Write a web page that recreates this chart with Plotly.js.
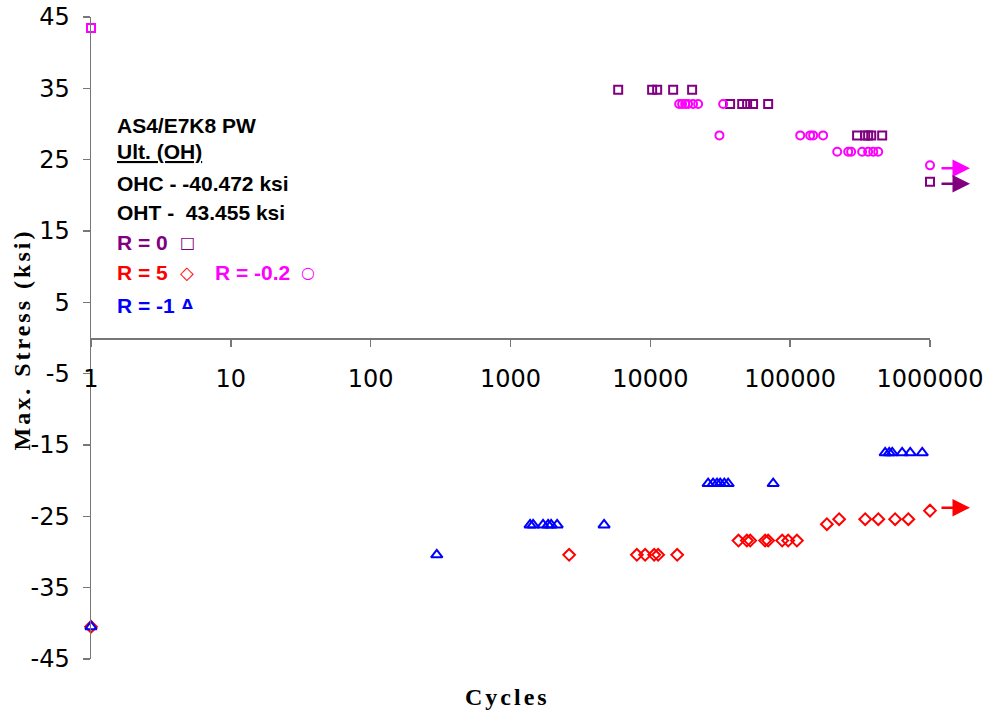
<!DOCTYPE html>
<html>
<head>
<meta charset="utf-8">
<script src="https://cdn.plot.ly/plotly-3.0.1.min.js"></script>
<style>
html,body{margin:0;padding:0;background:#fff;}
#chart{width:991px;height:716px;}
.spaced text{letter-spacing:3px;}
</style>
</head>
<body>
<div id="chart"></div>
<script>
// Ultimate (static) strengths
const ultTensionX = [1];
const ultTensionY = [43.455];

// R = 0 (squares)
const r0X = [5890, 10300, 11190, 14560, 19900, 37200, 45400, 49200, 54300, 69600, 301000, 344000, 361000, 380000, 455000, 1000000];
const r0Y = [34.8, 34.8, 34.8, 34.8, 34.8, 32.8, 32.8, 32.8, 32.8, 32.8, 28.4, 28.4, 28.4, 28.4, 28.4, 21.9];

// R = -0.2 (circles)
const rm02X = [16070, 16880, 17740, 18620, 20220, 21970, 33170, 31200, 118000, 139000, 146000, 172000, 217000, 260000, 273000, 327000, 361000, 393000, 426000, 1000000];
const rm02Y = [32.8, 32.8, 32.8, 32.8, 32.8, 32.8, 32.8, 28.4, 28.4, 28.4, 28.4, 28.4, 26.1, 26.1, 26.1, 26.1, 26.1, 26.1, 26.1, 24.2];

// R = 5 (diamonds)
const r5X = [1, 2626, 8010, 9180, 10650, 11370, 15560, 42700, 49000, 51800, 66200, 69600, 87700, 96800, 111700, 183000, 224000, 344000, 427000, 563000, 700000, 1000000];
const r5Y = [-40.472, -30.4, -30.4, -30.4, -30.4, -30.4, -30.4, -28.4, -28.4, -28.4, -28.4, -28.4, -28.4, -28.4, -28.4, -26.1, -25.4, -25.4, -25.4, -25.4, -25.4, -24.2];

// R = -1 (triangles)
const rm1X = [1, 297, 1381, 1452, 1710, 1858, 1952, 2155, 4670, 25900, 28100, 30000, 31600, 33800, 36000, 75600, 478000, 511000, 537000, 632000, 722000, 880000];
const rm1Y = [-40.472, -30.4, -26.2, -26.2, -26.2, -26.2, -26.2, -26.2, -26.2, -20.4, -20.4, -20.4, -20.4, -20.4, -20.4, -20.4, -16.1, -16.1, -16.1, -16.1, -16.1, -16.1];

// Run-outs (specimens that did not fail at 1e6 cycles)
const runoutX = [1000000, 1000000, 1000000];
const runoutY = [24.2, 21.9, -24.2];
const runoutColors = ['#FF00FF', '#800080', '#FF0000'];

// Axis ticks
const xTickVals = [1, 10, 100, 1000, 10000, 100000, 1000000];
const xTickText = ['1', '10', '100', '1000', '10000', '100000', '1000000'];
const yTickVals = [-45, -35, -25, -15, -5, 5, 15, 25, 35, 45];
const yTickText = ['-45', '-35', '-25', '-15', '-5', '5', '15', '25', '35', '45'];

const PURPLE = '#800080', MAGENTA = '#FF00FF', RED = '#FF0000', BLUE = '#0000FF';

function mk(x, y, sym, color, size) {
  return {x: x, y: y, type: 'scatter', mode: 'markers', cliponaxis: false, showlegend: false,
    marker: {symbol: sym, size: size, color: color, line: {color: color, width: 2}}};
}

const traces = [
  mk(r0X, r0Y, 'square-open', PURPLE, 8),
  mk(rm02X, rm02Y, 'circle-open', MAGENTA, 8),
  mk(r5X, r5Y, 'diamond-open', RED, 9),
  mk(rm1X, rm1Y, 'triangle-up-open', BLUE, 10),
  mk(ultTensionX, ultTensionY, 'square-open', MAGENTA, 8)
];

// pixel -> paper helpers (plot area: left 91, width 839, top 17, height 642)
const L = 91, W = 839, T = 17, H = 642;
const px = v => (v - L) / W;
const py = v => (T + H - v) / H;

function label(text, x, y, color, size) {
  return {xref: 'paper', yref: 'paper', x: px(x), y: py(y), xanchor: 'left', yanchor: 'middle',
    text: text, showarrow: false,
    font: {family: 'Liberation Sans, Arial, sans-serif', size: size || 21, color: color || '#000', weight: 'bold'}};
}
function sym(text, x, y, color, size) {
  return {xref: 'paper', yref: 'paper', x: px(x), y: py(y), xanchor: 'center', yanchor: 'middle',
    text: text, showarrow: false, font: {family: 'DejaVu Sans, sans-serif', size: size || 16, color: color, weight: 'bold'}};
}

const annotations = [
  label('AS4/E7K8 PW', 115, 125),
  label('<u>Ult. (OH)</u>', 115, 152),
  label('OHC - -40.472 ksi', 115, 183),
  label('OHT - &nbsp;43.455 ksi', 115, 212),
  label('R = 0', 115, 242, PURPLE),
  sym('□', 187, 242, PURPLE, 16),
  label('R = 5', 115, 272, RED),
  sym('◇', 187, 272, RED, 18),
  label('R = -0.2', 213, 272, MAGENTA),
  sym('○', 308, 272, MAGENTA, 16),
  label('R = -1', 115, 305, BLUE),
  sym('Δ', 187, 304, BLUE, 14),
  {xref: 'paper', yref: 'paper', x: px(22), y: py(340), textangle: -90, xanchor: 'center', yanchor: 'middle',
    text: 'Max. Stress (ksi)', showarrow: false,
    font: {family: 'Liberation Serif, Times New Roman, serif', size: 24, color: '#000', weight: 'bold'}},
  {xref: 'paper', yref: 'paper', x: px(507), y: py(697), xanchor: 'center', yanchor: 'middle',
    text: 'Cycles', showarrow: false,
    font: {family: 'Liberation Serif, Times New Roman, serif', size: 24, color: '#000', weight: 'bold'}}
];
const yShifts = [-3, -2, 3];
for (let i = 0; i < runoutX.length; i++) {
  annotations.push({x: Math.log10(runoutX[i]), y: runoutY[i], xref: 'x', yref: 'y', text: '',
    xshift: 40, yshift: yShifts[i],
    showarrow: true, ax: -30, ay: 0, arrowhead: 2, arrowsize: 1.4, arrowwidth: 2.5,
    arrowcolor: runoutColors[i]});
}

const layout = {
  width: 991, height: 716,
  margin: {l: L, r: 991 - L - W, t: T, b: 716 - T - H},
  paper_bgcolor: '#fff', plot_bgcolor: '#fff',
  font: {family: 'DejaVu Sans, sans-serif', size: 24, color: '#000'},
  xaxis: {type: 'log', range: [0, 6], anchor: 'free', position: 0.5,
    showline: true, linecolor: '#777', linewidth: 1.5, showgrid: false, zeroline: false,
    ticks: 'outside', ticklen: 7, tickcolor: '#777', tickwidth: 1.5,
    tickvals: xTickVals, ticktext: xTickText, ticklabelstandoff: 12,
    tickfont: {family: 'DejaVu Sans, sans-serif', size: 24, color: '#000'}},
  yaxis: {range: [-45, 45], showline: true, linecolor: '#777', linewidth: 1.5, showgrid: false, zeroline: false,
    ticks: 'outside', ticklen: 7, tickcolor: '#777', tickwidth: 1.5,
    tickvals: yTickVals, ticktext: yTickText, ticklabelstandoff: 8,
    tickfont: {family: 'DejaVu Sans, sans-serif', size: 24, color: '#000'}},
  annotations: annotations
};

Plotly.newPlot('chart', traces, layout, {displayModeBar: false, staticPlot: true}).then(() => {
  const anns = document.querySelectorAll('#chart .annotation');
  anns.forEach(a => {
    const t = a.querySelector('text');
    if (t && (t.textContent === 'Cycles' || t.textContent === 'Max. Stress (ksi)')) a.classList.add('spaced');
  });
});
</script>
</body>
</html>
